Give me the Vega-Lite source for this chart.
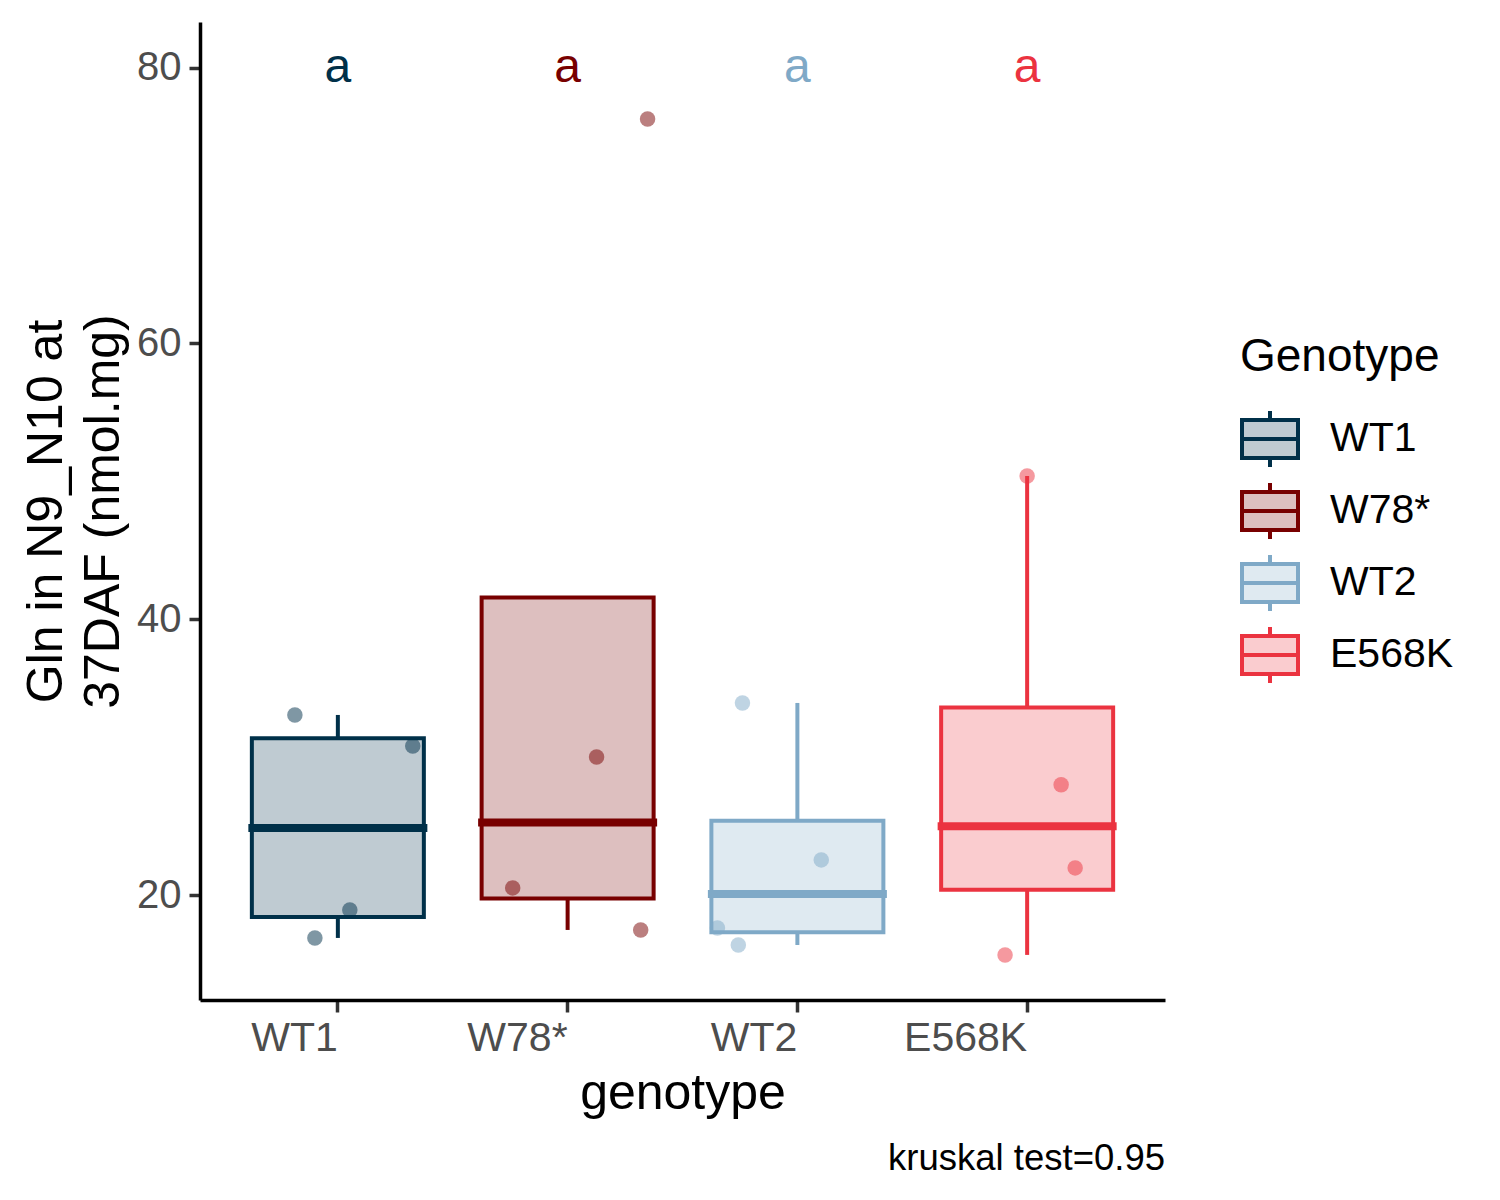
{
  "$schema": "https://vega.github.io/schema/vega-lite/v6.json",
  "autosize": {"type": "none"},
  "padding": {"left": 200, "top": 22, "right": 335, "bottom": 200},
  "width": 965,
  "height": 978,
  "config": {
    "font": "Liberation Sans",
    "view": {"stroke": null},
    "axis": {"grid": false}
  },
  "title": {
    "text": "kruskal test=0.95",
    "orient": "bottom",
    "anchor": "end",
    "frame": "group",
    "fontSize": 36.5,
    "fontWeight": "normal",
    "color": "black",
    "offset": 23
  },
  "datasets": {
    "gln": [
      {"genotype": "WT1", "gln": 16.89, "jit": -0.1},
      {"genotype": "WT1", "gln": 18.92, "jit": 0.052},
      {"genotype": "WT1", "gln": 30.81, "jit": 0.326},
      {"genotype": "WT1", "gln": 33.06, "jit": -0.187},
      {"genotype": "W78*", "gln": 17.47, "jit": 0.318},
      {"genotype": "W78*", "gln": 20.52, "jit": -0.239},
      {"genotype": "W78*", "gln": 30.01, "jit": 0.126},
      {"genotype": "W78*", "gln": 76.28, "jit": 0.348},
      {"genotype": "WT2", "gln": 16.38, "jit": -0.257},
      {"genotype": "WT2", "gln": 17.61, "jit": -0.348},
      {"genotype": "WT2", "gln": 22.55, "jit": 0.104},
      {"genotype": "WT2", "gln": 33.93, "jit": -0.239},
      {"genotype": "E568K", "gln": 15.66, "jit": -0.096},
      {"genotype": "E568K", "gln": 21.97, "jit": 0.209},
      {"genotype": "E568K", "gln": 28.0, "jit": 0.148},
      {"genotype": "E568K", "gln": 50.39, "jit": 0.0}
    ],
    "letters": [
      {"genotype": "WT1", "letter": "a", "y": 80},
      {"genotype": "W78*", "letter": "a", "y": 80},
      {"genotype": "WT2", "letter": "a", "y": 80},
      {"genotype": "E568K", "letter": "a", "y": 80}
    ]
  },
  "layer": [
    {
      "data": {"name": "gln"},
      "mark": {
        "type": "boxplot",
        "extent": 1.5,
        "outliers": false,
        "size": 172,
        "box": {"strokeWidth": 4},
        "rule": {"strokeWidth": 4},
        "median": {"thickness": 1, "strokeWidth": 7, "opacity": 1}
      },
      "encoding": {
        "x": {
          "field": "genotype",
          "type": "nominal",
          "sort": ["WT1", "W78*", "WT2", "E568K"],
          "scale": {"domain": ["WT1", "W78*", "WT2", "E568K"], "paddingInner": 0, "paddingOuter": 0.1},
          "title": "genotype",
          "axis": {
            "labelAngle": 0,
            "labelAlign": "right",
            "labelBaseline": "top",
            "labelFontSize": 41,
            "labelColor": "#4D4D4D",
            "labelPadding": 6,
            "tickColor": "#333333",
            "tickWidth": 3.5,
            "tickSize": 12,
            "domainColor": "black",
            "domainWidth": 3.5,
            "titleFontSize": 50,
            "titleFontWeight": "normal",
            "titleColor": "black",
            "titlePadding": 10
          }
        },
        "y": {
          "field": "gln",
          "type": "quantitative",
          "scale": {"domain": [12.39, 83.31], "nice": false, "zero": false},
          "title": ["Gln in N9_N10 at", "37DAF (nmol.mg)"],
          "axis": {
            "values": [20, 40, 60, 80],
            "labelFontSize": 40,
            "labelColor": "#4D4D4D",
            "labelPadding": 8,
            "tickColor": "#333333",
            "tickWidth": 3.5,
            "tickSize": 11,
            "domainColor": "black",
            "domainWidth": 3.5,
            "titleFontSize": 50,
            "titleFontWeight": "normal",
            "titleColor": "black",
            "titleLineHeight": 57,
            "titlePadding": 8
          }
        },
        "fill": {
          "field": "genotype",
          "type": "nominal",
          "title": "Genotype",
          "scale": {"domain": ["WT1", "W78*", "WT2", "E568K"], "range": ["#BFCBD2", "#DDBFBF", "#DFEAF1", "#FACCCF"]},
          "legend": {
            "orient": "none",
            "legendX": 1040,
            "legendY": 313,
            "titleFontSize": 46,
            "titleFontWeight": "normal",
            "titleColor": "black",
            "titleLimit": 500,
            "titlePadding": 28,
            "labelFontSize": 41,
            "labelColor": "black",
            "labelLimit": 500,
            "labelOffset": 30,
            "symbolType": "M-1,-0.68L1,-0.68L1,0.68L-1,0.68Z M-1,0L1,0 M0,-0.68L0,-1 M0,0.68L0,1",
            "symbolSize": 3136,
            "symbolStrokeWidth": 4,
            "symbolOpacity": 1,
            "rowPadding": 0
          }
        },
        "stroke": {
          "field": "genotype",
          "type": "nominal",
          "title": "Genotype",
          "scale": {"domain": ["WT1", "W78*", "WT2", "E568K"], "range": ["#003049", "#780000", "#7FA9C7", "#EB3340"]},
          "legend": {
            "orient": "none",
            "legendX": 1040,
            "legendY": 313,
            "titleFontSize": 46,
            "titleFontWeight": "normal",
            "titleColor": "black",
            "titleLimit": 500,
            "titlePadding": 28,
            "labelFontSize": 41,
            "labelColor": "black",
            "labelLimit": 500,
            "labelOffset": 30,
            "symbolType": "M-1,-0.68L1,-0.68L1,0.68L-1,0.68Z M-1,0L1,0 M0,-0.68L0,-1 M0,0.68L0,1",
            "symbolSize": 3136,
            "symbolStrokeWidth": 4,
            "symbolOpacity": 1,
            "rowPadding": 0
          }
        }
      }
    },
    {
      "data": {"name": "gln"},
      "mark": {"type": "circle", "size": 240, "opacity": 0.5},
      "encoding": {
        "x": {"field": "genotype", "type": "nominal"},
        "xOffset": {"field": "jit", "type": "quantitative", "scale": {"domain": [-0.5, 0.5]}},
        "y": {"field": "gln", "type": "quantitative"},
        "color": {
          "field": "genotype",
          "type": "nominal",
          "scale": {"domain": ["WT1", "W78*", "WT2", "E568K"], "range": ["#003049", "#780000", "#7FA9C7", "#EB3340"]},
          "legend": null
        }
      }
    },
    {
      "data": {"name": "letters"},
      "mark": {"type": "text", "fontSize": 48, "baseline": "middle", "align": "center"},
      "encoding": {
        "x": {"field": "genotype", "type": "nominal"},
        "y": {"field": "y", "type": "quantitative"},
        "text": {"field": "letter", "type": "nominal"},
        "color": {
          "field": "genotype",
          "type": "nominal",
          "scale": {"domain": ["WT1", "W78*", "WT2", "E568K"], "range": ["#003049", "#780000", "#7FA9C7", "#EB3340"]},
          "legend": null
        }
      }
    }
  ]
}
